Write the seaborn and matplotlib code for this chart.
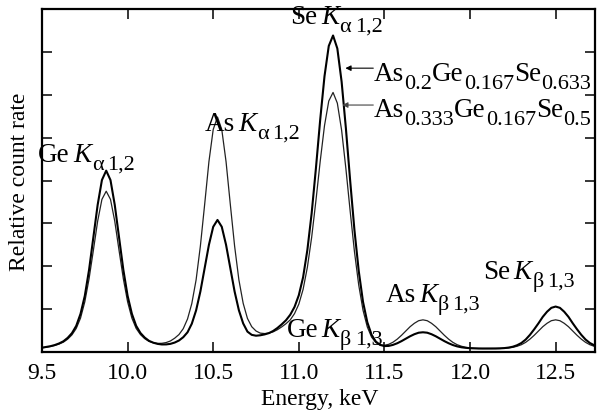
import matplotlib
matplotlib.use("Agg")
import matplotlib.pyplot as plt
from matplotlib.transforms import offset_copy
import seaborn as sns
import pandas as pd

# ---- data ----
energy = [9.5, 9.525, 9.55, 9.575, 9.6, 9.625, 9.65, 9.675, 9.7, 9.725,
          9.75, 9.775, 9.8, 9.825, 9.85, 9.875, 9.9, 9.925, 9.95, 9.975,
          10.0, 10.025, 10.05, 10.075, 10.1, 10.125, 10.15, 10.175, 10.2, 10.225,
          10.25, 10.275, 10.3, 10.325, 10.35, 10.375, 10.4, 10.425, 10.45, 10.475,
          10.5, 10.525, 10.55, 10.575, 10.6, 10.625, 10.65, 10.675, 10.7, 10.725,
          10.75, 10.775, 10.8, 10.825, 10.85, 10.875, 10.9, 10.925, 10.95, 10.975,
          11.0, 11.025, 11.05, 11.075, 11.1, 11.125, 11.15, 11.175, 11.2, 11.225,
          11.25, 11.275, 11.3, 11.325, 11.35, 11.375, 11.4, 11.425, 11.45, 11.475,
          11.5, 11.525, 11.55, 11.575, 11.6, 11.625, 11.65, 11.675, 11.7, 11.725,
          11.75, 11.775, 11.8, 11.825, 11.85, 11.875, 11.9, 11.925, 11.95, 11.975,
          12.0, 12.025, 12.05, 12.075, 12.1, 12.125, 12.15, 12.175, 12.2, 12.225,
          12.25, 12.275, 12.3, 12.325, 12.35, 12.375, 12.4, 12.425, 12.45, 12.475,
          12.5, 12.525, 12.55, 12.575, 12.6, 12.625, 12.65, 12.675, 12.7, 12.725,
          12.75]

# As0.2Ge0.167Se0.633 (thick line)
count_thick = [0.10, 0.117, 0.136, 0.163, 0.20, 0.25, 0.33, 0.44, 0.61, 0.89,
               1.31, 1.92, 2.67, 3.43, 4.01, 4.23, 4.01, 3.43, 2.67, 1.92,
               1.31, 0.89, 0.61, 0.443, 0.336, 0.26, 0.217, 0.189, 0.176, 0.177,
               0.19, 0.22, 0.268, 0.345, 0.46, 0.66, 0.97, 1.41, 1.95, 2.50,
               2.92, 3.08, 2.92, 2.50, 1.95, 1.41, 0.973, 0.667, 0.475, 0.40,
               0.38, 0.39, 0.41, 0.44, 0.49, 0.56, 0.645, 0.74, 0.869, 1.051,
               1.324, 1.743, 2.38, 3.235, 4.288, 5.421, 6.43, 7.138, 7.382, 7.079,
               6.305, 5.217, 3.993, 2.84, 1.89, 1.17, 0.696, 0.402, 0.242, 0.165,
               0.138, 0.142, 0.166, 0.204, 0.254, 0.311, 0.367, 0.415, 0.45, 0.46,
               0.45, 0.415, 0.367, 0.311, 0.254, 0.204, 0.162, 0.131, 0.11, 0.097,
               0.089, 0.085, 0.081, 0.081, 0.080, 0.081, 0.082, 0.085, 0.091, 0.103,
               0.123, 0.158, 0.21, 0.29, 0.40, 0.53, 0.67, 0.82, 0.94, 1.03,
               1.06, 1.03, 0.94, 0.82, 0.67, 0.53, 0.40, 0.29, 0.21, 0.158,
               0.123]

# As0.333Ge0.167Se0.5 (thin line)
count_thin = [0.10, 0.112, 0.13, 0.153, 0.186, 0.23, 0.30, 0.40, 0.55, 0.79,
              1.17, 1.71, 2.37, 3.05, 3.56, 3.75, 3.56, 3.05, 2.37, 1.71,
              1.17, 0.79, 0.55, 0.406, 0.311, 0.248, 0.216, 0.201, 0.203, 0.22,
              0.257, 0.322, 0.407, 0.544, 0.77, 1.13, 1.68, 2.47, 3.44, 4.44,
              5.19, 5.48, 5.19, 4.44, 3.44, 2.47, 1.683, 1.136, 0.783, 0.59,
              0.49, 0.44, 0.43, 0.44, 0.47, 0.52, 0.585, 0.66, 0.749, 0.896,
              1.115, 1.46, 1.975, 2.674, 3.532, 4.449, 5.279, 5.854, 6.054, 5.804,
              5.173, 4.276, 3.283, 2.34, 1.56, 0.975, 0.585, 0.347, 0.22, 0.165,
              0.157, 0.179, 0.228, 0.30, 0.39, 0.49, 0.59, 0.67, 0.73, 0.75,
              0.73, 0.67, 0.59, 0.49, 0.39, 0.30, 0.225, 0.17, 0.134, 0.109,
              0.095, 0.087, 0.083, 0.081, 0.08, 0.081, 0.081, 0.083, 0.087, 0.095,
              0.109, 0.134, 0.17, 0.225, 0.30, 0.39, 0.49, 0.59, 0.67, 0.73,
              0.75, 0.73, 0.67, 0.59, 0.49, 0.39, 0.30, 0.225, 0.17, 0.134,
              0.109]

x_ticks = [9.5, 10.0, 10.5, 11.0, 11.5, 12.0, 12.5]
x_ticklabels = ["9.5", "10.0", "10.5", "11.0", "11.5", "12.0", "12.5"]
y_ticks = [1, 2, 3, 4, 5, 6, 7]

# peak labels: element, greek letter, line indices
peak_elem = ["Ge", "As", "Se", "Ge", "As", "Se"]
peak_greek = ["α", "α", "α", "β", "β", "β"]
peak_idx = ["1,2", "1,2", "1,2", "1,3", "1,3", "1,3"]
peak_label_x = [9.477, 10.45, 10.951, 10.928, 11.505, 12.076]
peak_label_y = [4.45, 5.17, 7.67, 0.37, 1.19, 1.72]

# composition labels: (element, subscript) pairs
comp1 = [("As", "0.2"), ("Ge", "0.167"), ("Se", "0.633")]
comp2 = [("As", "0.333"), ("Ge", "0.167"), ("Se", "0.5")]

# ---- style ----
sns.set_theme(style="ticks")
plt.rcParams["font.family"] = ["Liberation Serif", "DejaVu Serif"]

W, H = 597, 414
fig = plt.figure(figsize=(W / 100, H / 100), dpi=100)
ax = fig.add_axes([42 / W, 1 - 353 / H, (595 - 42) / W, (353 - 10) / H])

df = pd.DataFrame({"energy": energy, "thick": count_thick, "thin": count_thin})
sns.lineplot(data=df, x="energy", y="thin", ax=ax, color="#222222", lw=0.9, estimator=None)
sns.lineplot(data=df, x="energy", y="thick", ax=ax, color="black", lw=1.5, estimator=None)

ax.set_xlim(9.5, 12.73)
ax.set_ylim(0, 8)
ax.set_xticks(x_ticks)
ax.set_xticklabels(x_ticklabels, fontsize=17)
ax.set_yticks(y_ticks)
ax.set_yticklabels([])
ax.tick_params(axis="both", direction="in", top=True, right=True, length=7, width=1.1,
               color="black", labelcolor="black")
ax.tick_params(axis="x", pad=7)
ax.set_xlabel("")
ax.set_ylabel("")
for s in ax.spines.values():
    s.set_linewidth(1.6)
    s.set_color("black")

renderer = fig.canvas.get_renderer()
MAIN, SUB, DROP = 19.5, 16, -5.5


def rich(x, y, parts):
    """parts: list of (text, size, style, dy_pt, gap_after_pt)"""
    ox = 0.0
    for s, size, style, dy, gap in parts:
        tr = offset_copy(ax.transData, fig=fig, x=ox, y=dy, units="points")
        t = ax.text(x, y, s, fontsize=size, fontstyle=style, transform=tr,
                    ha="left", va="baseline", color="black")
        ox += t.get_window_extent(renderer).width * 72 / fig.dpi + gap


for el, gr, ix, lx, ly in zip(peak_elem, peak_greek, peak_idx, peak_label_x, peak_label_y):
    rich(lx, ly, [(el, MAIN, "normal", 0, 2.5),
                  ("K", MAIN, "italic", 0, 0.3),
                  (gr, SUB, "normal", DROP, 2.5),
                  (ix, SUB, "normal", DROP, 0)])

for comp, base_y in [(comp1, 6.34), (comp2, 5.50)]:
    parts = []
    for el, sub in comp:
        parts.append((el, MAIN, "normal", 0, 0))
        parts.append((sub, SUB, "normal", DROP, 0))
    rich(11.44, base_y, parts)

ax.annotate("", xy=(11.272, 6.62), xytext=(11.435, 6.62),
            arrowprops=dict(arrowstyle="-|>", lw=0.8, color="black", mutation_scale=8,
                            shrinkA=0, shrinkB=0))
ax.annotate("", xy=(11.254, 5.76), xytext=(11.435, 5.76),
            arrowprops=dict(arrowstyle="-|>", lw=0.8, color="#444444", mutation_scale=8,
                            shrinkA=0, shrinkB=0))

fig.text(20 / W, 1 - 181.5 / H, "Relative count rate", rotation=90, ha="center",
         va="center", fontsize=17, color="black")
fig.text(320 / W, 1 - 400 / H, "Energy, keV", ha="center", va="center", fontsize=17,
         color="black")

fig.savefig("out.png", dpi=100)
